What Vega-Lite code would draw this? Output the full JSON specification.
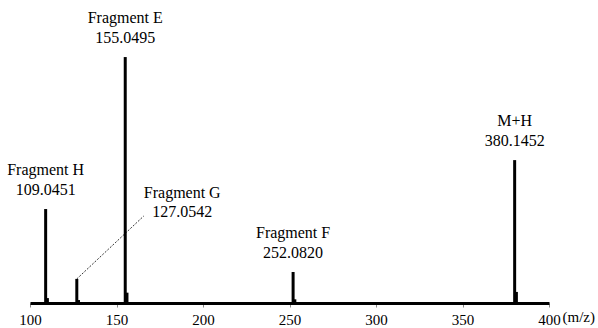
{
  "$schema": "https://vega.github.io/schema/vega-lite/v6.json",
  "width": 519,
  "height": 303,
  "autosize": {"type": "none"},
  "padding": {"left": 30, "top": 0, "right": 49, "bottom": 25},
  "background": "white",
  "config": {"view": {"stroke": null}, "font": "Liberation Serif"},
  "datasets": {
    "peaks": [
      {"mz": 109.0451, "intensity": 38.2},
      {"mz": 110.05, "intensity": 2.0},
      {"mz": 127.0542, "intensity": 9.8},
      {"mz": 128.05, "intensity": 1.2},
      {"mz": 155.0495, "intensity": 100},
      {"mz": 156.05, "intensity": 4.2},
      {"mz": 252.082, "intensity": 12.6},
      {"mz": 253.08, "intensity": 1.5},
      {"mz": 380.1452, "intensity": 58.1},
      {"mz": 381.15, "intensity": 4.5}
    ],
    "labels": [
      {"mz": 109.0451, "intensity": 38.2, "label": "Fragment H\n109.0451"},
      {"mz": 155.0495, "intensity": 100, "label": "Fragment E\n155.0495"},
      {"mz": 252.082, "intensity": 12.6, "label": "Fragment F\n252.0820"},
      {"mz": 380.1452, "intensity": 58.1, "label": "M+H\n380.1452"}
    ],
    "callout": [
      {"mz": 127.0542, "intensity": 9.8, "label": "Fragment G\n127.0542"}
    ]
  },
  "layer": [
    {
      "data": {"name": "peaks"},
      "mark": {"type": "rule", "strokeWidth": 3, "color": "black"},
      "encoding": {
        "x": {
          "field": "mz",
          "type": "quantitative",
          "scale": {"domain": [100, 400], "nice": false, "zero": false},
          "axis": {
            "values": [100, 150, 200, 250, 300, 350, 400],
            "grid": false,
            "domainColor": "black",
            "domainWidth": 3,
            "tickColor": "#888888",
            "tickSize": 4,
            "tickWidth": 1,
            "labelFont": "Liberation Serif",
            "labelFontSize": 15,
            "labelColor": "black",
            "labelPadding": 5,
            "labelFlush": false,
            "labelOverlap": false,
            "title": "(m/z)",
            "titleFont": "Liberation Serif",
            "titleFontSize": 15,
            "titleFontWeight": "normal",
            "titleColor": "black",
            "titleAlign": "left",
            "titleBaseline": "middle",
            "titleAnchor": "start",
            "titleX": 532,
            "titleY": 13
          }
        },
        "y": {
          "field": "intensity",
          "type": "quantitative",
          "scale": {"domain": [0, 123.2], "nice": false},
          "axis": null
        },
        "y2": {"datum": 0}
      }
    },
    {
      "data": {"name": "labels"},
      "mark": {
        "type": "text",
        "font": "Liberation Serif",
        "fontSize": 16,
        "lineHeight": 19.5,
        "lineBreak": "\n",
        "align": "center",
        "baseline": "bottom",
        "dy": -31,
        "color": "black"
      },
      "encoding": {
        "x": {"field": "mz", "type": "quantitative"},
        "y": {"field": "intensity", "type": "quantitative"},
        "text": {"field": "label", "type": "nominal"}
      }
    },
    {
      "data": {"name": "callout"},
      "mark": {"type": "rule", "strokeWidth": 0.8, "strokeDash": [2, 1.5], "color": "black"},
      "encoding": {
        "x": {"field": "mz", "type": "quantitative"},
        "y": {"field": "intensity", "type": "quantitative"},
        "x2": {"datum": 165.8},
        "y2": {"datum": 35.4}
      }
    },
    {
      "data": {"name": "callout"},
      "mark": {
        "type": "text",
        "font": "Liberation Serif",
        "fontSize": 16,
        "lineHeight": 19.5,
        "lineBreak": "\n",
        "align": "center",
        "baseline": "bottom",
        "dy": -31,
        "color": "black"
      },
      "encoding": {
        "x": {"datum": 188.0},
        "y": {"datum": 28.9},
        "text": {"field": "label", "type": "nominal"}
      }
    }
  ]
}
